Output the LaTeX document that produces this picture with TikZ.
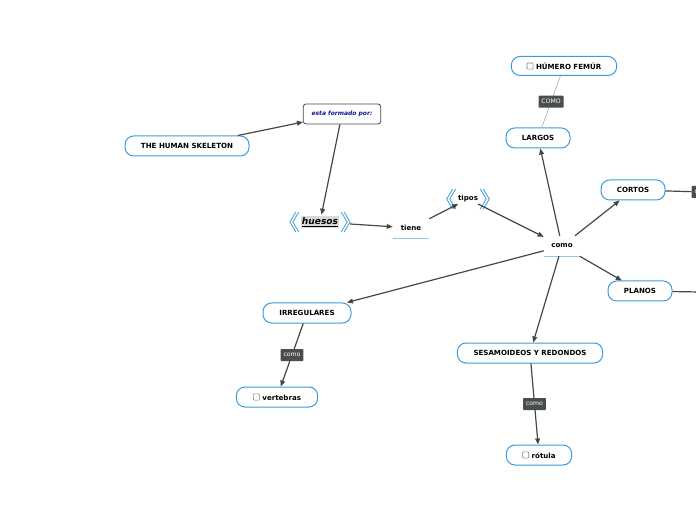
\documentclass[tikz,border=0pt]{standalone}
\usepackage{fontspec}
\setmainfont{DejaVu Sans}
\usetikzlibrary{arrows.meta, calc}

\definecolor{topicblue}{HTML}{3A9BDC}
\definecolor{linkgray}{HTML}{454747}
\definecolor{taggray}{HTML}{4A4D4D}
\definecolor{underblue}{HTML}{8DCBF2}
\definecolor{formblue}{HTML}{10149A}

% casilla de verificacion
\newcommand{\chkbox}{\tikz[baseline=0pt]\draw[gray, line width=0.45pt, rounded corners=0.6pt] (0pt,0pt) rectangle (4.6pt,4.6pt);\hspace{2pt}}

\tikzset{
  topic/.style={draw=topicblue, line width=0.75pt, fill=white, rounded corners=6.5pt,
    minimum height=15pt, inner sep=1pt, font=\bfseries\fontsize{5.3}{6}\selectfont},
  wordnode/.style={minimum width=27pt, minimum height=15pt, inner sep=1pt,
    font=\bfseries\fontsize{5.3}{6}\selectfont},
  chevnode/.style={inner xsep=8.3pt, inner ysep=1pt},
  linktag/.style={fill=taggray, text=white, rounded corners=0.6pt, minimum height=9pt,
    inner xsep=2.2pt, inner ysep=1pt, font=\fontsize{4.6}{5}\selectfont},
  conn/.style={draw=linkgray, line width=0.9pt, -{Triangle[length=4.5pt, width=3.6pt]}},
  uline/.style={draw=underblue, line width=1.1pt},
  chev/.style={draw=topicblue, line width=0.6pt},
  dchev/.pic={
    \draw[chev] (3,-10) -- (-3,0) -- (3,10);
    \draw[chev] (6,-10) -- (0,0) -- (6,10);
  }
}

\begin{document}
\begin{tikzpicture}[x=0.75pt, y=-0.75pt]
  \useasboundingbox (0,0) rectangle (696,520);
  \clip (0,0) rectangle (696,520);

  % nodos principales
  \node[topic, minimum width=93pt] (skeleton) at (187,146) {THE HUMAN SKELETON};
  \node[draw=linkgray, line width=0.6pt, rounded corners=2pt, minimum width=58pt,
    minimum height=15pt, text=formblue,
    font=\bfseries\itshape\fontsize{4.5}{5}\selectfont] (formado) at (342,114) {esta formado por:};
  \node[chevnode, font=\bfseries\itshape\fontsize{6.8}{8}\selectfont] (huesos) at (320,222)
    {\setlength{\fboxsep}{0.6pt}\colorbox{gray!30}{\underline{huesos}}};
  \node[wordnode] (tiene) at (411,228) {tiene};
  \node[chevnode, font=\bfseries\fontsize{5.3}{6}\selectfont] (tipos) at (468,199) {tipos};
  \node[wordnode] (como) at (562,246) {como};

  % tipos de huesos
  \node[topic, minimum width=48pt] (largos) at (538,138) {LARGOS};
  \node[topic, minimum width=79pt, minimum height=14.25pt] (humero) at (564,66) {\chkbox HÚMERO FEMÚR};
  \node[topic, minimum width=48pt] (cortos) at (633,190) {CORTOS};
  \node[topic, minimum width=48pt] (planos) at (640,291) {PLANOS};
  \node[topic, minimum width=66pt] (irregulares) at (307,313) {IRREGULARES};
  \node[topic, minimum width=61pt] (vertebras) at (277,397) {\chkbox vertebras};
  \node[topic, minimum width=109pt] (sesamoideos) at (530,353) {SESAMOIDEOS Y REDONDOS};
  \node[topic, minimum width=49pt] (rotula) at (539,455) {\chkbox rótula};

  % ramas que salen por el margen derecho
  \node[linktag] (cortoscomo) at (703,192) {como};
  \coordinate (planosfin) at (700,292);

  % subrayados y corchetes
  \draw[uline] (tiene.south west) -- (tiene.south east);
  \draw[uline] (como.south west) -- (como.south east);
  \pic at ($(huesos.west)+(3,0)$) {dchev};
  \pic[xscale=-1] at ($(huesos.east)+(-3,0)$) {dchev};
  \pic at ($(tipos.west)+(3,0)$) {dchev};
  \pic[xscale=-1] at ($(tipos.east)+(-3,0)$) {dchev};

  % conectores
  \draw[conn] (skeleton) -- (formado);
  \draw[conn] (formado) -- (huesos);
  \draw[conn] (huesos) -- (tiene);
  \draw[conn] (tiene) -- (tipos);
  \draw[conn] (tipos) -- (como);
  \foreach \t in {largos, cortos, planos, irregulares, sesamoideos}
    \draw[conn] (como) -- (\t);
  \draw[conn] (irregulares) -- node[linktag] {como} (vertebras);
  \draw[conn] (sesamoideos) -- node[linktag] {como} (rotula);
  \draw[draw=gray!60, line width=0.5pt] (largos) -- node[linktag] {COMO} (humero);
  \draw[draw=linkgray, line width=0.9pt] (cortos) -- (cortoscomo);
  \draw[draw=linkgray, line width=0.9pt] (planos) -- (planosfin);
\end{tikzpicture}
\end{document}
